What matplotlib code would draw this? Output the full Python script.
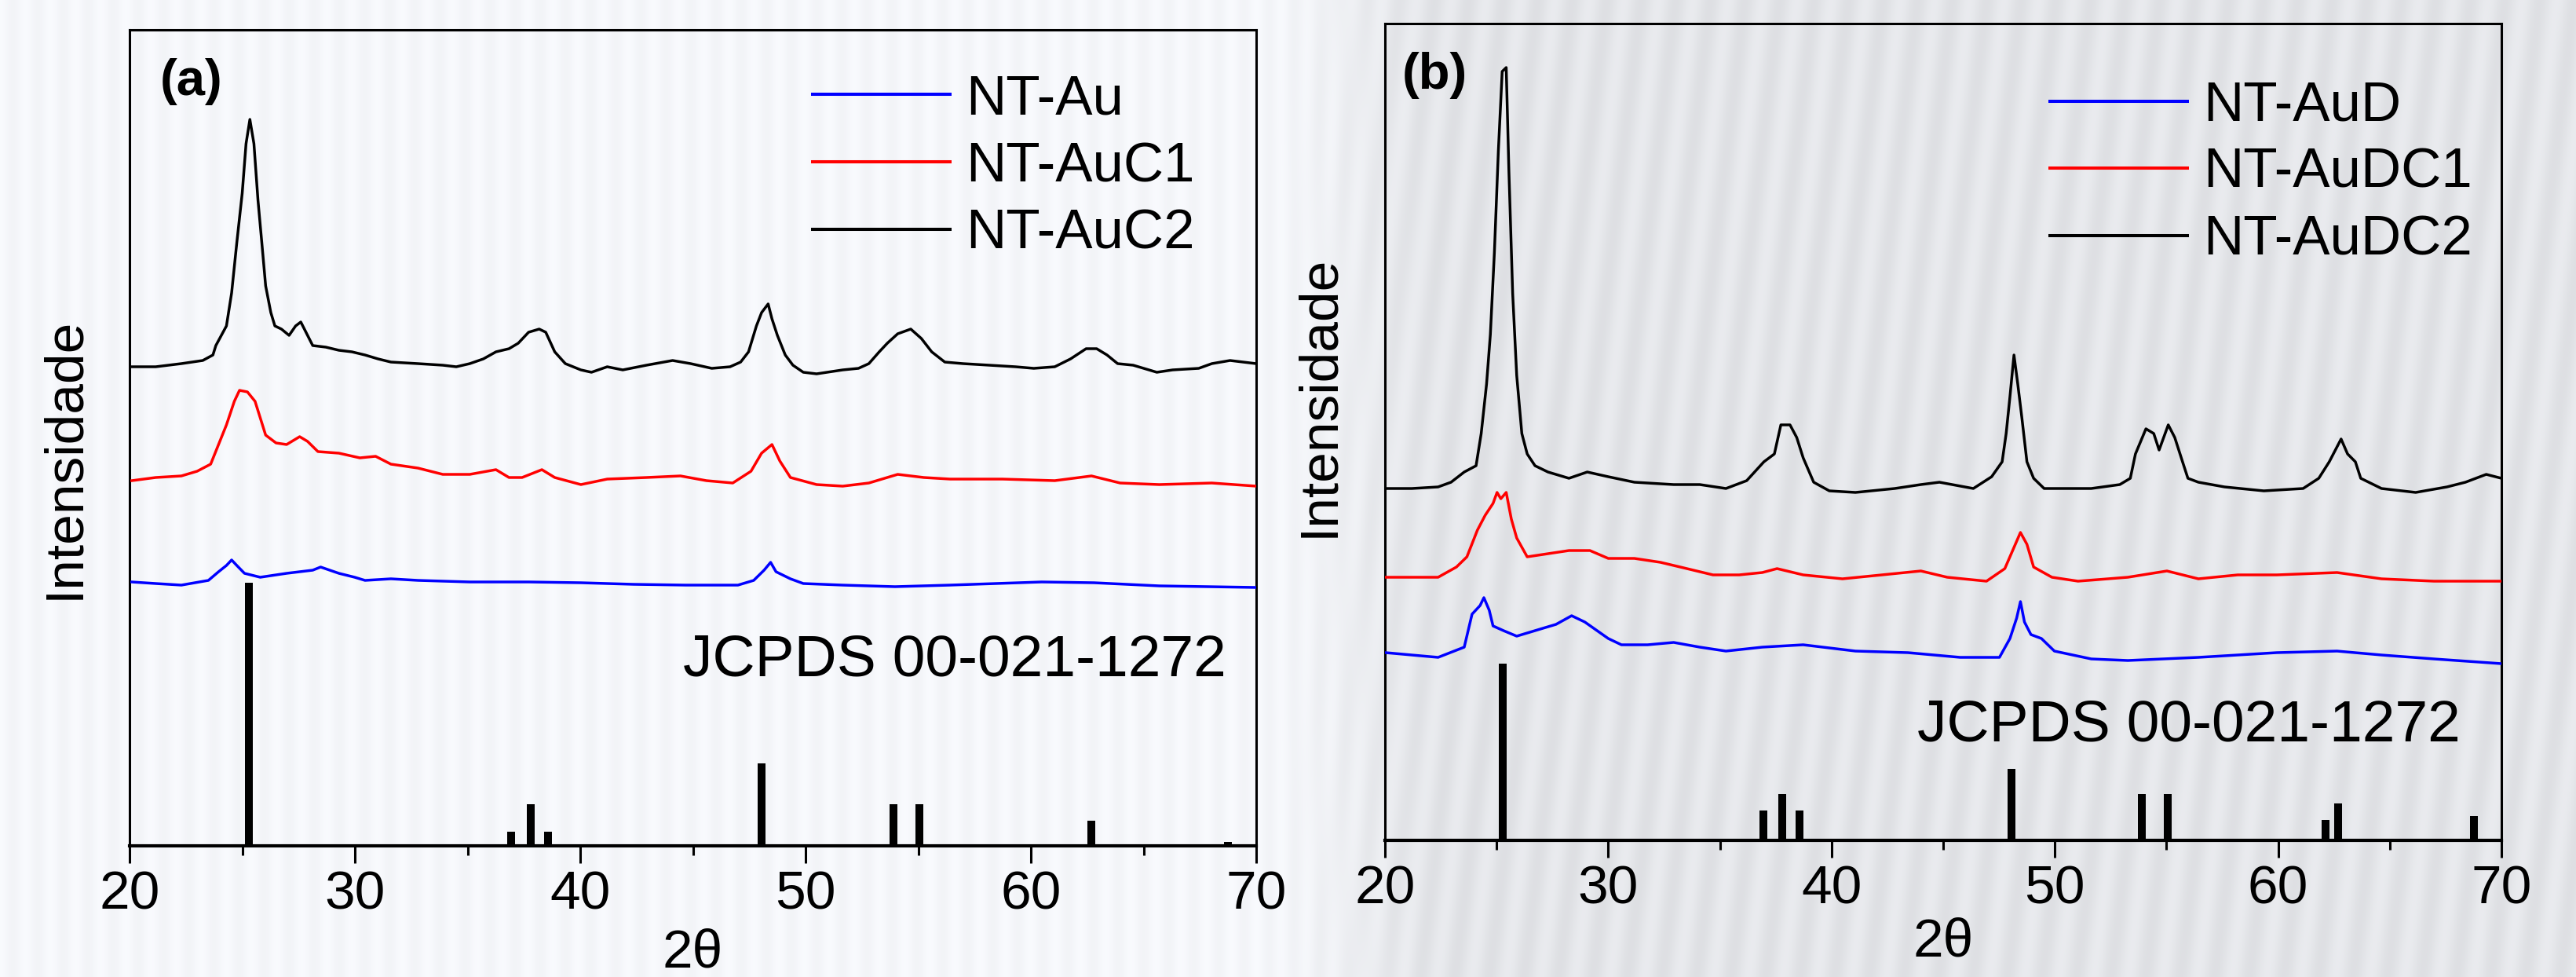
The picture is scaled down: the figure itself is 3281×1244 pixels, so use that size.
import numpy as np
import matplotlib
matplotlib.use("Agg")
import matplotlib.pyplot as plt
from matplotlib.ticker import MultipleLocator

plt.rcParams["font.family"] = ["Liberation Sans", "DejaVu Sans"]

# ---------------------------------------------------------------- data
# JCPDS 00-021-1272 (anatase) reference lines, 2-theta positions
REF_2THETA = [25.28, 36.95, 37.80, 38.58, 48.05, 53.89, 55.06, 62.12, 62.69, 68.76]
REF_HEIGHT_A = [335, 18, 53, 18, 105, 53, 53, 0, 32, 5]
REF_HEIGHT_B = [225, 38, 59, 38, 91, 59, 59, 26, 47, 31]
REF_LABEL = "JCPDS 00-021-1272"

# panel (a) -- stacked patterns (intensity, a.u., offsets included)
NT_AU_X = [20.1, 21.16, 22.3, 23.5, 23.95, 24.3, 24.53, 24.76, 25.1, 25.8, 26.97,
           28.13, 28.48, 29.29, 29.99, 30.45, 31.6, 32.8, 35.1, 37.71, 40.03, 42.36,
           44.68, 47.0, 47.7, 48.16, 48.45, 48.69, 49.33, 49.9, 51.65, 53.97, 56.41,
           60.48, 62.8, 65.7, 70.0]
NT_AU_Y = [336, 334, 332, 338, 349, 357, 364, 357, 347, 342, 347,
           351, 355, 347, 342, 338, 340, 338, 336, 336, 335, 333,
           332, 332, 338, 351, 361, 349, 340, 334, 332, 330, 332,
           336, 335, 331, 329]

NT_AUC1_X = [20.1, 21.16, 22.3, 23.0, 23.6, 23.95, 24.3, 24.65, 24.88, 25.23, 25.57,
             25.8, 26.04, 26.5, 26.97, 27.55, 27.9, 28.36, 29.29, 30.22, 30.92, 31.6,
             32.8, 33.9, 35.1, 36.26, 36.84, 37.42, 38.3, 38.87, 40.03, 41.2, 42.94,
             44.45, 45.6, 46.77, 47.58, 48.05, 48.51, 48.86, 49.33, 50.49, 51.65,
             52.81, 54.09, 55.25, 56.41, 58.74, 61.06, 62.69, 63.96, 65.7, 68.03, 70.0]
NT_AUC1_Y = [465, 469, 471, 477, 486, 511, 536, 566, 580, 578, 566,
             545, 523, 513, 511, 521, 515, 502, 500, 494, 496, 486,
             481, 473, 473, 479, 469, 469, 479, 469, 460, 467, 469,
             471, 465, 462, 477, 500, 511, 490, 469, 460, 458,
             462, 473, 469, 467, 467, 465, 471, 462, 460, 462, 458]

NT_AUC2_X = [20.1, 21.16, 22.3, 23.25, 23.7, 23.83, 24.3, 24.53, 24.76, 25.0, 25.17,
             25.34, 25.52, 25.7, 25.87, 26.04, 26.27, 26.45, 26.74, 27.08, 27.37, 27.6,
             27.9, 28.13, 28.71, 29.29, 29.87, 30.45, 31.03, 31.6, 32.8, 33.9, 34.5,
             35.1, 35.7, 36.26, 36.84, 37.25, 37.71, 38.18, 38.47, 38.87, 39.34, 40.03,
             40.5, 41.2, 41.89, 42.94, 44.1, 44.9, 45.84, 46.65, 47.12, 47.47, 47.82,
             48.05, 48.34, 48.51, 48.75, 49.1, 49.44, 49.9, 50.49, 51.65, 52.35, 52.81,
             53.27, 53.63, 54.09, 54.67, 55.14, 55.6, 56.18, 56.99, 58.16, 59.32, 60.13,
             61.06, 61.76, 62.45, 62.92, 63.38, 63.85, 64.54, 65.59, 66.29, 67.45, 68.03,
             68.84, 69.42, 70.0]
NT_AUC2_Y = [610, 610, 614, 618, 625, 637, 662, 704, 768, 831, 894,
             925, 894, 822, 768, 713, 679, 662, 658, 650, 662, 667,
             650, 637, 635, 631, 629, 625, 620, 616, 614, 612, 610,
             614, 620, 629, 633, 640, 654, 658, 654, 629, 614, 606,
             603, 610, 606, 612, 618, 614, 608, 610, 616, 629, 662,
             679, 690, 671, 650, 625, 612, 603, 601, 606, 608, 614,
             629, 640, 652, 658, 646, 629, 616, 614, 612, 610, 608,
             610, 620, 633, 633, 625, 614, 612, 603, 606, 608, 614,
             618, 616, 614]

# panel (b)
NT_AUD_X = [20.03, 21.2, 22.38, 23.55, 23.9, 24.26, 24.43, 24.67, 24.84, 25.31, 25.9,
            27.07, 27.66, 28.36, 28.95, 30.0, 30.59, 31.76, 32.93, 34.1, 35.27, 36.9,
            38.73, 41.07, 43.42, 45.76, 47.52, 47.99, 48.29, 48.46, 48.64, 48.93, 49.4,
            49.98, 51.63, 53.27, 56.43, 59.94, 62.64, 64.63, 66.98, 70.0]
NT_AUD_Y = [239, 236, 233, 246, 288, 299, 309, 293, 273, 267, 260,
            270, 275, 286, 278, 257, 249, 249, 252, 246, 241, 246,
            249, 241, 239, 233, 233, 257, 283, 304, 278, 262, 257,
            241, 231, 229, 233, 239, 241, 236, 231, 225]

NT_AUDC1_X = [20.03, 21.2, 22.38, 23.2, 23.67, 24.14, 24.49, 24.84, 25.02, 25.19, 25.43,
              25.66, 25.9, 26.37, 27.07, 28.24, 29.18, 30.0, 31.17, 32.34, 33.52, 34.69,
              35.86, 36.9, 37.56, 38.73, 40.49, 42.25, 44.0, 45.18, 46.94, 47.76, 48.11,
              48.46, 48.75, 49.05, 49.87, 51.04, 53.27, 55.02, 56.43, 58.19, 59.94, 62.64,
              64.63, 66.98, 70.0]
NT_AUDC1_Y = [335, 335, 335, 348, 361, 395, 414, 429, 443, 435, 443,
              409, 385, 361, 364, 369, 369, 359, 359, 354, 346, 338,
              338, 341, 346, 338, 333, 338, 343, 335, 330, 346, 369,
              392, 377, 348, 335, 330, 335, 343, 333, 338, 338, 341,
              333, 330, 330]

NT_AUDC2_X = [20.03, 21.2, 22.38, 22.96, 23.55, 24.08, 24.31, 24.55, 24.72, 24.9, 25.08,
              25.25, 25.43, 25.55, 25.72, 25.9, 26.13, 26.37, 26.72, 27.3, 28.24, 29.06,
              30.0, 31.17, 32.93, 34.1, 35.27, 36.2, 36.97, 37.44, 37.73, 38.14, 38.44,
              38.73, 39.2, 39.9, 41.07, 42.83, 44.0, 44.83, 46.35, 47.17, 47.64, 47.82,
              47.99, 48.17, 48.34, 48.52, 48.75, 49.05, 49.52, 50.45, 51.63, 52.91, 53.38,
              53.61, 54.08, 54.43, 54.67, 55.08, 55.37, 55.72, 55.96, 56.43, 57.6, 59.36,
              61.12, 61.82, 62.29, 62.82, 63.11, 63.46, 63.7, 64.63, 66.16, 67.56, 68.39,
              69.32, 70.0]
NT_AUDC2_Y = [448, 448, 450, 456, 469, 477, 518, 581, 644, 748, 879,
              979, 984, 853, 696, 592, 518, 492, 477, 469, 461, 469,
              463, 456, 453, 453, 448, 458, 482, 492, 529, 529, 513,
              487, 456, 445, 443, 448, 453, 456, 448, 463, 482, 518,
              565, 618, 581, 539, 482, 461, 448, 448, 448, 453, 461,
              492, 524, 518, 497, 529, 513, 482, 461, 456, 450, 445,
              448, 461, 482, 511, 492, 482, 461, 448, 443, 450, 456,
              466, 461]

SERIES_A = [("NT-Au", NT_AU_X, NT_AU_Y, "#0000ff"),
            ("NT-AuC1", NT_AUC1_X, NT_AUC1_Y, "#ff0000"),
            ("NT-AuC2", NT_AUC2_X, NT_AUC2_Y, "#000000")]
SERIES_B = [("NT-AuD", NT_AUD_X, NT_AUD_Y, "#0000ff"),
            ("NT-AuDC1", NT_AUDC1_X, NT_AUDC1_Y, "#ff0000"),
            ("NT-AuDC2", NT_AUDC2_X, NT_AUDC2_Y, "#000000")]

# ---------------------------------------------------------------- figure
W, H = 3281, 1244
fig = plt.figure(figsize=(W / 100, H / 100), dpi=100)
fig.patch.set_facecolor("#f3f4f6")

# soft striped backdrop: near-white on the left, grey on the right
bg = fig.add_axes([0, 0, 1, 1], zorder=-10)
bg.axis("off")
xx = np.arange(W)[None, :].astype(float)
yy = np.arange(H)[:, None].astype(float)
blend = np.clip((xx - 1600) / 250.0, 0, 1)
blend = blend * blend * (3 - 2 * blend)
left_v = 0.975 + 0.012 * np.cos(2 * np.pi * xx / 32.0) + 0 * yy
right_v = 0.905 + 0.022 * np.cos(2 * np.pi * (xx + 0.12 * yy) / 44.0)
v = left_v * (1 - blend) + right_v * blend
rgb = np.clip(np.dstack([v - 0.012, v - 0.006, v + 0.008]), 0, 1)
bg.imshow(rgb, extent=[0, 1, 0, 1], aspect="auto", interpolation="bilinear")
bg.set_xlim(0, 1)
bg.set_ylim(0, 1)


def draw_panel(rect, ytop, ref_heights, series, tag, tag_xy, leg, jcpds_xy,
               ylabel_xy, xlabel_y):
    ax = fig.add_axes(rect)
    ax.patch.set_alpha(0)
    ax.bar(REF_2THETA, ref_heights, width=0.35, color="black", zorder=2)
    for name, x, y, col in series:
        ax.plot(x, y, color=col, lw=2.5, zorder=3)
    ax.set_xlim(20, 70)
    ax.set_ylim(0, ytop)
    ax.xaxis.set_major_locator(MultipleLocator(10))
    ax.xaxis.set_minor_locator(MultipleLocator(5))
    ax.tick_params(axis="x", which="major", direction="out", length=16,
                   width=2.2, labelsize=50, pad=6)
    ax.tick_params(axis="x", which="minor", direction="out", length=8.6,
                   width=2.2)
    ax.set_yticks([])
    for s in ax.spines.values():
        s.set_linewidth(2.2)
    ax.spines["bottom"].set_linewidth(3.0)

    ax.set_xlabel("2θ", fontsize=50)
    ax.xaxis.set_label_coords(0.5, xlabel_y)
    ax.set_ylabel("Intensidade", fontsize=50)
    ax.yaxis.set_label_coords(*ylabel_xy)

    ax.text(tag_xy[0], tag_xy[1], tag, transform=ax.transAxes, fontsize=47,
            fontweight="bold", va="baseline", ha="left")
    ax.text(jcpds_xy[0], jcpds_xy[1], REF_LABEL, transform=ax.transAxes,
            fontsize=54, va="baseline", ha="right")

    x0, x1, xt, line_ys, base_ys = leg
    for (name, x, y, col), ly, by in zip(series, line_ys, base_ys):
        ax.plot([x0, x1], [ly, ly], transform=ax.transAxes, color=col, lw=2.9,
                clip_on=False, solid_capstyle="butt")
        ax.text(xt, by, name, transform=ax.transAxes, fontsize=51,
                va="baseline", ha="left")
    return ax


draw_panel([165 / W, (H - 1077) / H, 1435 / W, 1039 / H], 1039, REF_HEIGHT_A,
           SERIES_A, "(a)", (0.027, 0.920),
           (0.605, 0.7296, 0.742, [0.9211, 0.8383, 0.7555], [0.8970, 0.8142, 0.7315]),
           (0.9735, 0.2079), (-0.0355, 0.4755), -0.101)

draw_panel([1764 / W, (H - 1070) / H, 1422 / W, 1040 / H], 1040, REF_HEIGHT_B,
           SERIES_B, "(b)", (0.0155, 0.920),
           (0.5942, 0.7201, 0.7328, [0.9048, 0.8231, 0.7404], [0.8817, 0.8000, 0.7173]),
           (0.9634, 0.1221), (-0.0366, 0.544), -0.0933)

fig.savefig("out.png", dpi=100, facecolor=fig.get_facecolor())
